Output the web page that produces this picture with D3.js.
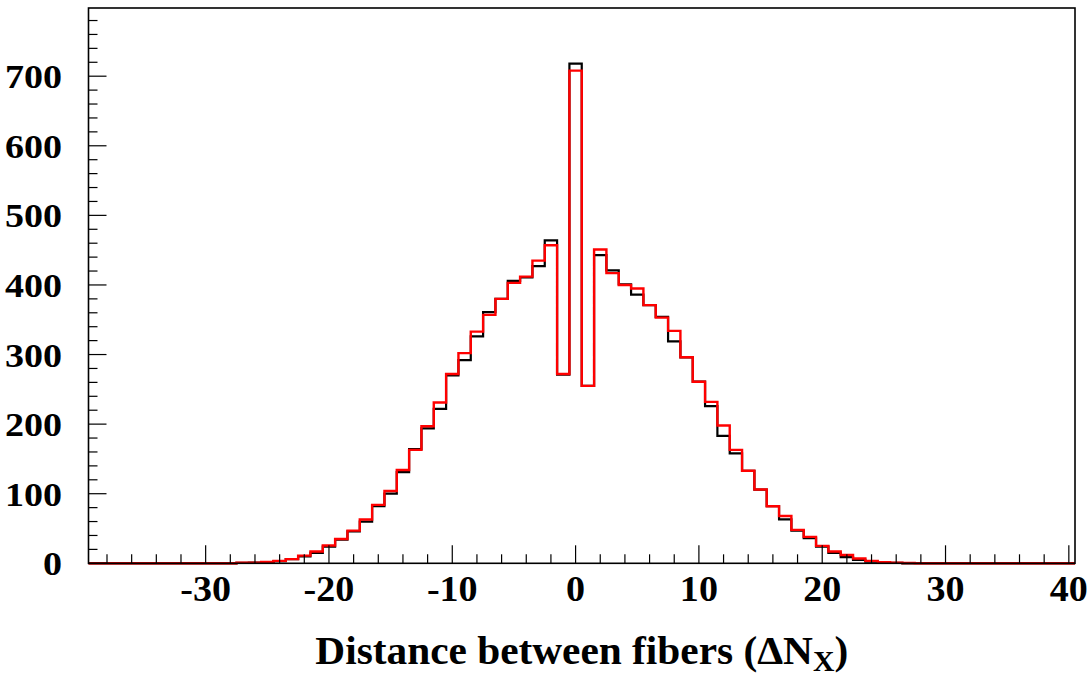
<!DOCTYPE html>
<html>
<head>
<meta charset="utf-8">
<script src="https://cdn.jsdelivr.net/npm/d3@7"></script>
<style>
  body { margin: 0; background: #fff; }
  svg { display: block; }
  text { font-family: "Liberation Serif", "Times New Roman", serif; font-weight: bold; }
</style>
</head>
<body>
<svg id="chart" width="1091" height="679"></svg>
<script>
// Bin centers from -39 to 40 (bin width 1)
const binCenters = d3.range(-39, 41);

// Black histogram contents for bins -39..40
const blackValues = [
  0,0,0,0,0,0,0,0,0,0,0,0,            // -39..-28
  0.5,1,1.5,3,6,10,15,24,34,46,       // -27..-18
  60,82,100,131,164,194,222,270,292,326, // -17..-8
  361,380,406,411,427,464,271,718,255,443, // -7..2
  421,401,386,371,354,319,296,261,226,183, // 3..12
  158,133,106,82,63,47,36,24,15,9,    // 13..22
  5,2.5,1,0.5,                        // 23..26
  0,0,0,0,0,0,0,0,0,0,0,0,0,0         // 27..40
];

// Red histogram contents for bins -39..40
const redValues = [
  0,0,0,0,0,0,0,0,0,0,0,0,            // -39..-28
  1,1,2,3.5,6,11,17,25.5,35,47,       // -27..-18
  63,84,104,134,163,197,231,272,302,333, // -17..-8
  357,380,403,412,435,457,272,708,255,451, // -7..2
  417,400,395,371,353,334,296,261,232,198, // 3..12
  163,133,106,82,68,48,38,25,17,12,   // 13..22
  7,3.5,1.5,1,0.5,                    // 23..27
  0,0,0,0,0,0,0,0,0,0,0,0,0           // 28..40
];

const xMajorTicks = [-30, -20, -10, 0, 10, 20, 30, 40];
const xMinorTicks = d3.range(-38, 41, 2);
const yMajorTicks = [0, 100, 200, 300, 400, 500, 600, 700];
const yMinorTicks = d3.range(0, 781, 20);
const xTitle = "Distance between fibers (ΔN";
const xTitleSub = "X";

const frame = { left: 88.5, right: 1075, top: 8, bottom: 563.3 };
const xDomain = [-39.5, 40.5];
const yDomain = [0, 798];

const svg = d3.select("#chart");
const x = d3.scaleLinear().domain(xDomain).range([frame.left, frame.right]);
const y = d3.scaleLinear().domain(yDomain).range([frame.bottom, frame.top]);

function stepPath(values) {
  const p = d3.path();
  p.moveTo(x(binCenters[0] - 0.5), y(0));
  values.forEach((v, i) => {
    const c = binCenters[i];
    p.lineTo(x(c - 0.5), y(v));
    p.lineTo(x(c + 0.5), y(v));
  });
  p.lineTo(x(binCenters[binCenters.length - 1] + 0.5), y(0));
  return p.toString();
}

// Histograms
svg.append("path").attr("d", stepPath(blackValues))
  .attr("fill", "none").attr("stroke", "#000").attr("stroke-width", 2.2)
  .attr("stroke-linejoin", "miter");
svg.append("path").attr("d", stepPath(redValues))
  .attr("fill", "none").attr("stroke", "#ff0000").attr("stroke-width", 2.4)
  .attr("stroke-linejoin", "miter");

// Ticks (inside frame, ROOT style)
const gx = svg.append("g");
gx.selectAll("line.xmaj").data(xMajorTicks).join("line")
  .attr("x1", d => x(d)).attr("x2", d => x(d))
  .attr("y1", frame.bottom).attr("y2", frame.bottom - 18)
  .attr("stroke", "#000").attr("stroke-width", 1.2);
gx.selectAll("line.xmin").data(xMinorTicks.filter(d => !xMajorTicks.includes(d))).join("line")
  .attr("x1", d => x(d)).attr("x2", d => x(d))
  .attr("y1", frame.bottom).attr("y2", frame.bottom - 9)
  .attr("stroke", "#000").attr("stroke-width", 1.2);

const gy = svg.append("g");
gy.selectAll("line.ymaj").data(yMajorTicks).join("line")
  .attr("x1", frame.left).attr("x2", frame.left + 18)
  .attr("y1", d => y(d)).attr("y2", d => y(d))
  .attr("stroke", "#000").attr("stroke-width", 1.2);
gy.selectAll("line.ymin").data(yMinorTicks.filter(d => !yMajorTicks.includes(d))).join("line")
  .attr("x1", frame.left).attr("x2", frame.left + 9)
  .attr("y1", d => y(d)).attr("y2", d => y(d))
  .attr("stroke", "#000").attr("stroke-width", 1.2);

// Frame
svg.append("rect")
  .attr("x", frame.left).attr("y", frame.top)
  .attr("width", frame.right - frame.left).attr("height", frame.bottom - frame.top)
  .attr("fill", "none").attr("stroke", "#000").attr("stroke-width", 1.6);

// Tick labels (slightly widened glyphs as in the original)
svg.selectAll("text.xl").data(xMajorTicks).join("text")
  .attr("transform", d => `translate(${x(d)},601) scale(1.12,1.03)`)
  .attr("text-anchor", "middle").attr("font-size", 34)
  .text(d => d);
svg.selectAll("text.yl").data(yMajorTicks).join("text")
  .attr("transform", d => `translate(62,${y(d) + 12}) scale(1.12,1.0)`)
  .attr("text-anchor", "end").attr("font-size", 34)
  .text(d => d);

// Axis title
const t = svg.append("text")
  .attr("transform", `translate(${(frame.left + frame.right) / 2},664) scale(1.06,1.04)`)
  .attr("text-anchor", "middle").attr("font-size", 39);
t.append("tspan").text(xTitle);
t.append("tspan").attr("dy", 7).attr("font-size", 28).text(xTitleSub);
t.append("tspan").attr("dy", -7).text(")");
</script>
</body>
</html>
